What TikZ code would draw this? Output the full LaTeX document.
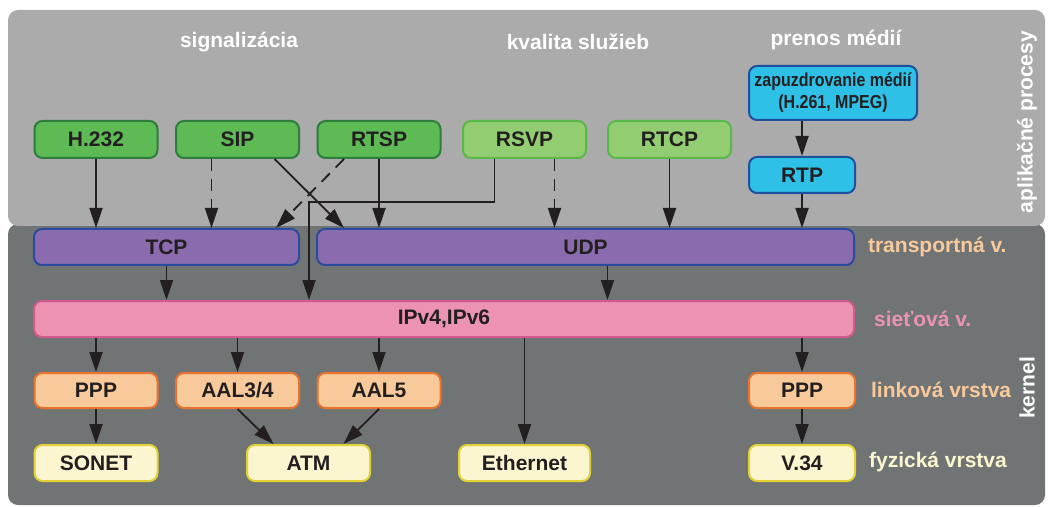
\documentclass[tikz,border=0pt]{standalone}
\usepackage{fontspec}
\setmainfont{Liberation Sans}
\newfontfamily\narrowfont{Liberation Sans}[FakeStretch=0.85]
\usetikzlibrary{arrows.meta,calc}
\definecolor{panellight}{HTML}{ABABAB}
\definecolor{paneldark}{HTML}{717474}
\definecolor{boxtext}{HTML}{231F20}
\definecolor{sigfill}{HTML}{5DBA55}
\definecolor{sigdraw}{HTML}{2E7D3C}
\definecolor{qosfill}{HTML}{93CD72}
\definecolor{qosdraw}{HTML}{5AB84A}
\definecolor{medfill}{HTML}{2EC0E7}
\definecolor{meddraw}{HTML}{1F4F9E}
\definecolor{trfill}{HTML}{8A6BAE}
\definecolor{trdraw}{HTML}{2B4C9E}
\definecolor{netfill}{HTML}{EC93B4}
\definecolor{netdraw}{HTML}{D25A8E}
\definecolor{linkfill}{HTML}{F8CA9B}
\definecolor{linkdraw}{HTML}{E8732C}
\definecolor{phyfill}{HTML}{FBF5D0}
\definecolor{phydraw}{HTML}{E3D136}
\begin{document}
\begin{tikzpicture}[x=0.5pt,y=-0.5pt,
  font=\fontsize{10.5}{12}\selectfont\bfseries,
  box/.style={draw,rounded corners=4pt,line width=1pt,inner sep=0pt,text=boxtext},
  sigbox/.style={box,fill=sigfill,draw=sigdraw,minimum width=61.5pt,minimum height=18.5pt},
  qosbox/.style={box,fill=qosfill,draw=qosdraw,minimum width=61.5pt,minimum height=18.5pt},
  medbox/.style={box,fill=medfill,draw=meddraw},
  trbox/.style={box,fill=trfill,draw=trdraw,minimum height=18pt},
  netbox/.style={box,fill=netfill,draw=netdraw,minimum height=18pt},
  linkbox/.style={box,fill=linkfill,draw=linkdraw,minimum width=61.5pt,minimum height=17.5pt},
  phybox/.style={box,fill=phyfill,draw=phydraw,minimum width=61.5pt,minimum height=18pt},
  arr/.style={-{Triangle[length=10pt,width=6.5pt]},line width=0.9pt,draw=boxtext},
  dsh/.style={arr,dash pattern=on 6pt off 4pt},
  head/.style={text=white},
  layer/.style={anchor=west}]
\useasboundingbox (0,0) rectangle (1052,507);
\fill [paneldark,rounded corners=5pt] (8,224) rectangle (1045,505);
\fill [panellight,rounded corners=5pt] (8,10) rectangle (1045,226);
\node [head] (sig) at (239,42) {signalizácia};
\node [head] (qos) at (578,42) {kvalita služieb};
\node [head] (med) at (836,40) {prenos médií};
\node [head,rotate=90] (app) at (1027,122) {aplikačné procesy};
\node [head,rotate=90] (kern) at (1027,388) {kernel};
\node [sigbox] (h232) at (96,139.5) {H.232};
\node [sigbox] (sip) at (237.5,139.5) {SIP};
\node [sigbox] (rtsp) at (379,139.5) {RTSP};
\node [qosbox] (rsvp) at (524.5,139.5) {RSVP};
\node [qosbox] (rtcp) at (669.5,139.5) {RTCP};
\node [medbox,minimum width=84pt,minimum height=27pt,align=center,
  font=\fontsize{9.4}{11}\narrowfont\bfseries] (zap) at (833,93)
  {zapuzdrovanie médií\\(H.261, MPEG)};
\node [medbox,minimum width=53pt,minimum height=18pt] (rtp) at (802,175) {RTP};
\node [trbox,minimum width=132.5pt] (tcp) at (166.5,247) {TCP};
\node [trbox,minimum width=268.5pt] (udp) at (585.5,247) {UDP};
\node [netbox,minimum width=410pt] (ip) at (444,319) {IPv4,IPv6};
\node [linkbox] (ppp) at (96,390.5) {PPP};
\node [linkbox] (aal34) at (237.5,390.5) {AAL3/4};
\node [linkbox] (aal5) at (379,390.5) {AAL5};
\node [linkbox,minimum width=53pt] (pppb) at (802,390.5) {PPP};
\node [phybox] (sonet) at (96,463) {SONET};
\node [phybox] (atm) at (308.5,463) {ATM};
\node [phybox,minimum width=65.5pt] (eth) at (524.5,463) {Ethernet};
\node [phybox,minimum width=53pt] (v34) at (802,463) {V.34};
\node [layer,text=linkfill] (ltr) at (861,247) {transportná v.};
\node [layer,text=netfill] (lnet) at (867,319) {sieťová v.};
\node [layer,text=linkfill] (llink) at (864,390) {linková vrstva};
\node [layer,text=phyfill] (lphy) at (862,462) {fyzická vrstva};
\coordinate (bend) at (309,202);
\draw [arr] (h232.south) -- (h232.south |- tcp.north);
\draw [dsh] ($(sip.south)+(-26,0)$) coordinate (sipd) -- (sipd |- tcp.north);
\draw [arr] ($(sip.south)+(37,0)$) -- ($(udp.north west)+(28,0)$);
\draw [dsh] ($(rtsp.south)+(-35,0)$) -- ($(tcp.north east)+(-24,0)$);
\draw [arr] (rtsp.south) -- (rtsp.south |- udp.north);
\draw [arr] ($(rsvp.south)+(-30,0)$) |- (bend) -- (bend |- ip.north);
\draw [dsh] ($(rsvp.south)+(30,0)$) coordinate (rsvpd) -- (rsvpd |- udp.north);
\draw [arr] (rtcp.south) -- (rtcp.south |- udp.north);
\draw [arr] (rtp.north |- zap.south) -- (rtp.north);
\draw [arr] (rtp.south) -- (rtp.south |- udp.north);
\draw [arr] (tcp.south) -- (tcp.south |- ip.north);
\draw [arr] ($(udp.south)+(22,0)$) coordinate (udpd) -- (udpd |- ip.north);
\draw [arr] (ip.south -| ppp.north) -- (ppp.north);
\draw [arr] (ip.south -| aal34.north) -- (aal34.north);
\draw [arr] (ip.south -| aal5.north) -- (aal5.north);
\draw [arr] (ip.south -| eth.north) -- (eth.north);
\draw [arr] (ip.south -| pppb.north) -- (pppb.north);
\draw [arr] (ppp.south) -- (sonet.north);
\draw [arr] (aal34.south) -- ($(atm.north)+(-35,0)$);
\draw [arr] (aal5.south) -- ($(atm.north)+(35,0)$);
\draw [arr] (pppb.south) -- (v34.north);
\end{tikzpicture}
\end{document}
